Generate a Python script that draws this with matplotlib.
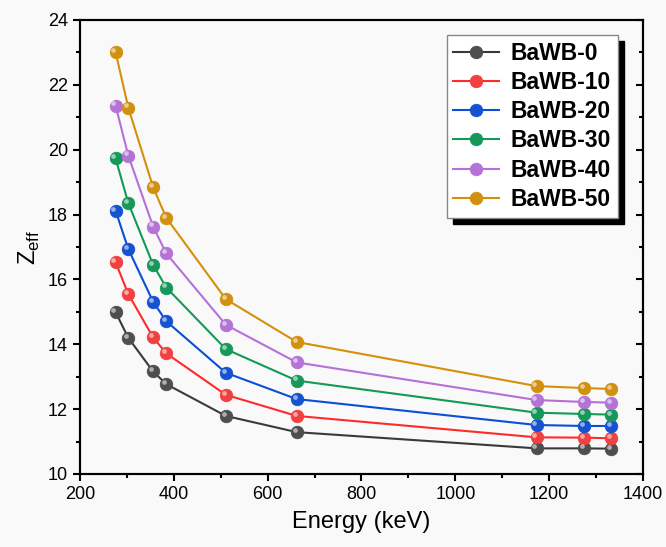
import matplotlib
matplotlib.use("Agg")
import matplotlib.pyplot as plt
import matplotlib.transforms as mtransforms
from matplotlib.ticker import MultipleLocator

plt.rcParams["font.family"] = ["Liberation Sans", "DejaVu Sans"]

energy = [276, 303, 356, 384, 511, 662, 1173, 1275, 1332]

labels = ["BaWB-0", "BaWB-10", "BaWB-20", "BaWB-30", "BaWB-40", "BaWB-50"]
zeff_0 = [14.99, 14.20, 13.16, 12.77, 11.79, 11.29, 10.79, 10.79, 10.78]
zeff_10 = [16.53, 15.55, 14.21, 13.72, 12.44, 11.79, 11.13, 11.12, 11.10]
zeff_20 = [18.12, 16.94, 15.31, 14.71, 13.12, 12.31, 11.51, 11.48, 11.48]
zeff_30 = [19.73, 18.36, 16.45, 15.75, 13.85, 12.88, 11.89, 11.85, 11.83]
zeff_40 = [21.36, 19.82, 17.63, 16.80, 14.60, 13.44, 12.28, 12.22, 12.20]
zeff_50 = [23.01, 21.30, 18.84, 17.90, 15.39, 14.07, 12.71, 12.65, 12.62]
series = [zeff_0, zeff_10, zeff_20, zeff_30, zeff_40, zeff_50]

line_colors = ["#3a3a3a", "#ff2a2a", "#0a4fd6", "#139a55", "#b670d8", "#d4900a"]
marker_colors = ["#4e4e4e", "#f04040", "#1452d0", "#16985a", "#b473d6", "#d1900e"]

fig = plt.figure(figsize=(6.66, 5.47), dpi=100, facecolor="#f9f9f9")
ax = fig.add_axes([0.120, 0.1335, 0.8455, 0.83])
ax.set_facecolor("#f9f9f9")

# small offset for the highlight dot on each ball marker
hl = mtransforms.ScaledTranslation(-1.5 / 72, 1.5 / 72, fig.dpi_scale_trans)

for lab, ys, lc, mc in zip(labels, series, line_colors, marker_colors):
    ax.plot(energy, ys, color=lc, linewidth=1.5, marker="o", markersize=9,
            markerfacecolor=mc, markeredgecolor=mc, markeredgewidth=0.6,
            label=lab, zorder=3)
    ax.plot(energy, ys, linestyle="none", marker="o", markersize=3.4,
            markerfacecolor="white", markeredgewidth=0, alpha=0.55,
            transform=ax.transData + hl, zorder=4)

ax.set_xlim(200, 1400)
ax.set_ylim(10, 24)
ax.xaxis.set_major_locator(MultipleLocator(200))
ax.xaxis.set_minor_locator(MultipleLocator(100))
ax.yaxis.set_major_locator(MultipleLocator(2))
ax.yaxis.set_minor_locator(MultipleLocator(1))
ax.tick_params(which="both", direction="out", width=1.5, labelsize=13,
               top=False, right=False, colors="black")
ax.tick_params(which="major", length=5)
ax.tick_params(which="minor", length=3)
for sp in ax.spines.values():
    sp.set_linewidth(1.5)

# right-hand ticks point inward
ax2 = ax.twinx()
ax2.set_ylim(10, 24)
ax2.yaxis.set_major_locator(MultipleLocator(2))
ax2.yaxis.set_minor_locator(MultipleLocator(1))
ax2.tick_params(which="both", direction="in", width=1.5, labelright=False)
ax2.tick_params(which="major", length=5)
ax2.tick_params(which="minor", length=3)
for sp in ax2.spines.values():
    sp.set_linewidth(1.5)

ax.set_xlabel("Energy (keV)", fontsize=17, labelpad=6)
ax.set_ylabel(r"Z$_\mathregular{eff}$", fontsize=17, labelpad=4)

leg = ax.legend(loc="upper right", bbox_to_anchor=(0.9556, 0.967),
                borderaxespad=0, fancybox=False, framealpha=1,
                edgecolor="#888888", facecolor="white",
                shadow={"ox": 4.5, "oy": -4.5, "color": "black", "alpha": 1},
                handlelength=2.0, labelspacing=0.27, handletextpad=0.5,
                borderpad=0.3, prop={"weight": "bold", "size": 16.5})
leg.set_zorder(10)

fig.savefig("out.png", dpi=100, facecolor=fig.get_facecolor())
